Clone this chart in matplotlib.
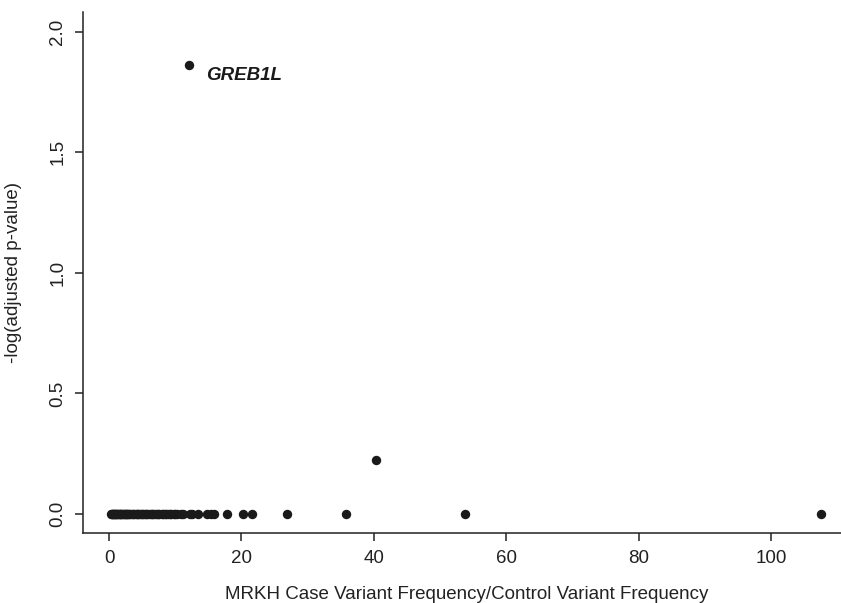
import matplotlib
matplotlib.use("Agg")
from matplotlib import pyplot as plt

# genes with adjusted p-value = 1 (-log = 0)
ratio_zero = [0.3, 0.4, 0.5, 0.6, 0.7, 0.8, 0.9, 1.0, 1.1, 1.2, 1.3, 1.45,
              1.6, 1.7, 1.8, 2.0, 2.1, 2.2, 2.4, 2.5, 2.6, 2.7, 2.9, 3.0, 3.2,
              3.4, 3.6, 3.8, 4.0, 4.2, 4.3, 4.5, 4.8, 5.0, 5.2, 5.4, 5.6, 5.8,
              6.0, 6.3, 6.5, 6.7, 7.0, 7.2, 7.4, 7.6, 8.0, 8.2, 8.4, 8.6, 8.9,
              9.2, 9.4, 9.8, 10.0, 10.3, 10.8, 11.2, 12.2, 12.6, 13.5, 14.8,
              15.4, 15.9, 17.8, 20.2, 21.6, 26.9, 35.8, 53.7, 107.5]
# genes with non-zero -log(adjusted p)
ratio_hit = [12.1, 40.3]
logp_hit = [1.862, 0.223]
hit_labels = ["GREB1L", ""]

plt.rcParams['font.family'] = ['Liberation Sans', 'DejaVu Sans']

fig = plt.figure(figsize=(8.41, 6.03), dpi=100)
ax = fig.add_axes([83 / 841, 0.1156, (841 - 83) / 841 + 0.01, 0.864])

ax.scatter(ratio_zero, [0] * len(ratio_zero), s=46, color="#1a1a1a",
           linewidths=0, zorder=3)
ax.scatter(ratio_hit, logp_hit, s=46, color="#1a1a1a", linewidths=0, zorder=3)
for x, y, lab in zip(ratio_hit, logp_hit, hit_labels):
    if lab:
        ax.annotate(lab, (x, y), xytext=(12, -8), textcoords="offset points",
                    fontsize=13.5, fontweight="bold", fontstyle="italic",
                    color="#1a1a1a", ha="left", va="center")

ax.set_xlim(-3.93, 111.8)
ax.set_ylim(-0.08, 2.08)
ax.set_xticks([0, 20, 40, 60, 80, 100])
ax.set_yticks([0.0, 0.5, 1.0, 1.5, 2.0])
ax.set_yticklabels(["0.0", "0.5", "1.0", "1.5", "2.0"], rotation=90, va="center")

for side in ["top", "right"]:
    ax.spines[side].set_visible(False)
for side in ["left", "bottom"]:
    ax.spines[side].set_linewidth(1.1)
    ax.spines[side].set_color("#222222")
ax.tick_params(direction="out", length=6, width=1.1, color="#222222",
               labelsize=13.5, labelcolor="#222222", pad=6)

ax.set_xlabel("MRKH Case Variant Frequency/Control Variant Frequency",
              fontsize=13.5, color="#222222", labelpad=14)
ax.set_ylabel("-log(adjusted p-value)", fontsize=13.5, color="#222222",
              labelpad=20)

fig.savefig("out.png", dpi=100)
